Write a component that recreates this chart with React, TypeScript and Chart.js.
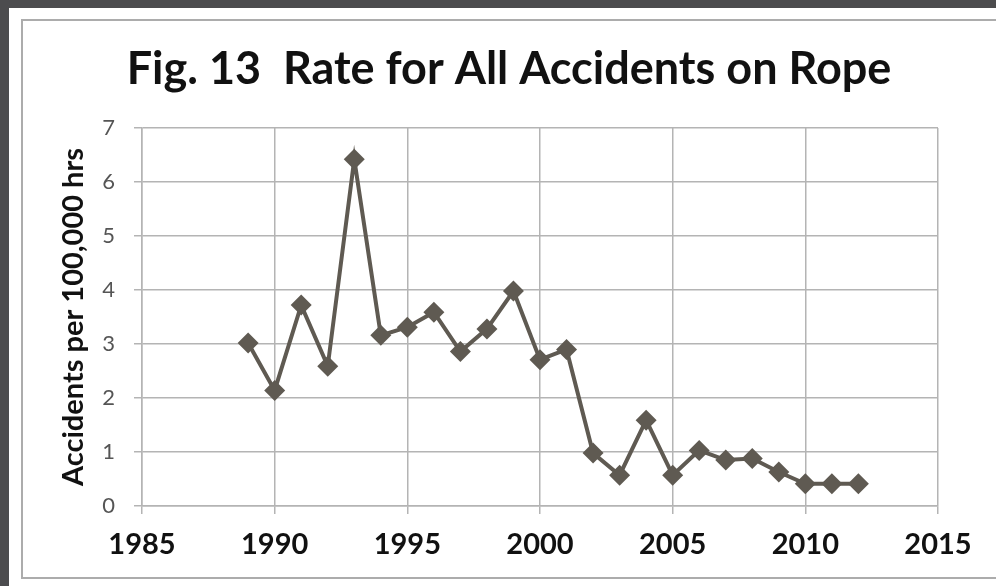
import { useEffect, useRef } from "react";
import { Chart, registerables } from "chart.js";

Chart.register(...registerables);

const years = [
  1989, 1990, 1991, 1992, 1993, 1994, 1995, 1996, 1997, 1998, 1999, 2000,
  2001, 2002, 2003, 2004, 2005, 2006, 2007, 2008, 2009, 2010, 2011, 2012,
];
const rates = [
  3.02, 2.14, 3.72, 2.59, 6.42, 3.16, 3.31, 3.59, 2.86, 3.28, 3.98, 2.71,
  2.9, 0.98, 0.57, 1.59, 0.57, 1.03, 0.85, 0.88, 0.63, 0.41, 0.41, 0.41,
];
const chartTitle = "Fig. 13  Rate for All Accidents on Rope";
const yTitle = "Accidents per 100,000 hrs";

const LINE = "#5f5a52";
const GRID = "#b4b4b4";
const FONT = "Lato, 'Open Sans', sans-serif";

export default function App() {
  const canvasRef = useRef<HTMLCanvasElement | null>(null);

  useEffect(() => {
    const canvas = canvasRef.current;
    if (!canvas) return;

    // title drawn by hand so it can sit off the chart-area centre like the original
    const titlePlugin = {
      id: "figTitle",
      afterDraw(chart: Chart) {
        const ctx = chart.ctx;
        ctx.save();
        ctx.font = `bold 45px ${FONT}`;
        ctx.fillStyle = "#111";
        ctx.textAlign = "center";
        ctx.textBaseline = "alphabetic";
        ctx.fillText(chartTitle, 509, 84);
        ctx.restore();
      },
    };

    const chart = new Chart(canvas, {
      type: "line",
      data: {
        datasets: [
          {
            label: "Rate",
            data: years.map((y, i) => ({ x: y, y: rates[i] })),
            borderColor: LINE,
            backgroundColor: LINE,
            borderWidth: 4,
            pointStyle: "rectRot",
            pointRadius: 10.5,
            pointBorderWidth: 0,
            tension: 0,
          },
        ],
      },
      options: {
        animation: false,
        responsive: true,
        maintainAspectRatio: false,
        layout: { padding: { left: 0, right: 58, top: 128, bottom: 0 } },
        plugins: {
          legend: { display: false },
          title: { display: false },
          tooltip: { enabled: false },
        },
        scales: {
          x: {
            type: "linear",
            min: 1985,
            max: 2015,
            afterFit: (s: any) => {
              s.height = 80;
            },
            ticks: {
              stepSize: 5,
              color: "#111",
              font: { family: FONT, size: 29, weight: "bold" },
              padding: 13,
              callback: (v: any) => String(v),
            },
            grid: { color: GRID, lineWidth: 1.5, tickLength: 8 },
            border: { color: GRID, width: 1.5 },
          },
          y: {
            min: 0,
            max: 7,
            afterFit: (s: any) => {
              s.width = 142;
            },
            ticks: {
              stepSize: 1,
              color: "#555",
              font: { family: FONT, size: 22 },
              padding: 19,
            },
            grid: { color: GRID, lineWidth: 1.5, tickLength: 8 },
            border: { color: GRID, width: 1.5 },
            title: {
              display: true,
              text: yTitle,
              color: "#111",
              font: { family: FONT, size: 29, weight: "bold" },
              padding: { top: 56, bottom: 0 },
            },
          },
        },
      },
      plugins: [titlePlugin],
    });

    return () => chart.destroy();
  }, []);

  return (
    <div style={{ position: "fixed", inset: 0, background: "#4c4c4e", overflow: "hidden" }}>
      <div
        style={{
          position: "absolute",
          left: 9,
          top: 8,
          width: 1000,
          height: 600,
          background: "#fff",
        }}
      />
      <div
        style={{
          position: "absolute",
          left: 21,
          top: 19,
          width: 1000,
          height: 556,
          border: "2px solid #acacac",
        }}
      />
      <div style={{ position: "absolute", left: 0, top: 0, width: 996, height: 586 }}>
        <canvas ref={canvasRef} />
      </div>
    </div>
  );
}
